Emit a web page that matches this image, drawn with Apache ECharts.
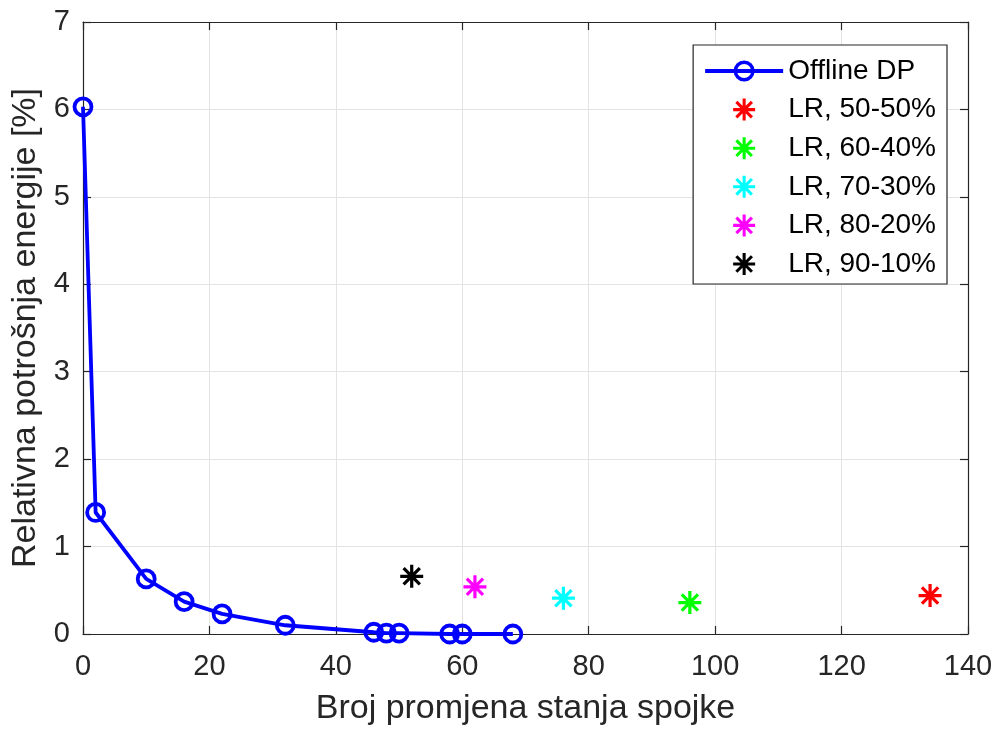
<!DOCTYPE html>
<html>
<head>
<meta charset="utf-8">
<script src="https://cdn.jsdelivr.net/npm/echarts@6/dist/echarts.min.js"></script>
<style>
html,body{margin:0;padding:0;background:#fff;}
#chart{width:996px;height:731px;}
</style>
</head>
<body>
<div id="chart"></div>
<script>
// Offline DP trade-off curve: clutch state changes vs. relative energy use
const dpChanges = [0, 2, 10, 16, 22, 32, 46, 48, 50, 58, 60, 68];
const dpEnergy  = [6.03, 1.39, 0.63, 0.37, 0.23, 0.10, 0.02, 0.01, 0.01, 0.0, 0.0, 0.0];

// Rule-based (LR) operating points
const lrNames   = ['LR, 50-50%', 'LR, 60-40%', 'LR, 70-30%', 'LR, 80-20%', 'LR, 90-10%'];
const lrChanges = [134, 96, 76, 62, 52];
const lrEnergy  = [0.44, 0.36, 0.41, 0.54, 0.66];
const lrColors  = ['#ff0000', '#00ff00', '#00ffff', '#ff00ff', '#000000'];

const xTicks = { min: 0, max: 140, step: 20 };
const yTicks = { min: 0, max: 7, step: 1 };

// eight-spoke asterisk marker
const asterisk = 'path://' +
  'M-1.4,-10L1.4,-10L1.4,10L-1.4,10Z' +
  'M-10,-1.4L10,-1.4L10,1.4L-10,1.4Z' +
  'M6.08,8.06L-8.06,-6.08L-6.08,-8.06L8.06,6.08Z' +
  'M-6.08,8.06L-8.06,6.08L6.08,-8.06L8.06,-6.08Z';

const axisColor = '#262626';
const font = 'Liberation Sans, Arial, sans-serif';

const chart = echarts.init(document.getElementById('chart'), null, { renderer: 'canvas' });

const series = [{
  name: 'Offline DP',
  type: 'line',
  data: dpChanges.map((x, i) => [x, dpEnergy[i]]),
  symbol: 'circle',
  symbolSize: 17,
  showAllSymbol: true,
  clip: false,
  lineStyle: { color: '#0000ff', width: 3.8 },
  itemStyle: { color: 'rgba(0,0,0,0)', borderColor: '#0000ff', borderWidth: 3.8 },
  z: 3
}];
lrNames.forEach((n, i) => {
  series.push({
    name: n,
    type: 'scatter',
    data: [[lrChanges[i], lrEnergy[i]]],
    symbol: asterisk,
    symbolSize: 23,
    itemStyle: { color: lrColors[i], opacity: 1 },
    z: 4
  });
});

const plainAxis = {
  axisLine: { show: true, onZero: false, lineStyle: { color: axisColor, width: 1.2 } },
  axisTick: { show: true, inside: true, length: 8, lineStyle: { color: axisColor, width: 1.2 } },
  axisLabel: { show: false },
  splitLine: { show: false }
};

const legendItems = [{
  name: 'Offline DP',
  lineStyle: { color: '#0000ff', width: 4 },
  itemStyle: { color: 'rgba(0,0,0,0)', borderColor: '#0000ff', borderWidth: 3.5 }
}].concat(lrNames.map(n => ({ name: n })));

chart.setOption({
  animation: false,
  backgroundColor: '#ffffff',
  grid: { left: 83, right: 28, top: 22, bottom: 97, containLabel: false },
  xAxis: [{
    type: 'value', min: xTicks.min, max: xTicks.max, interval: xTicks.step,
    name: 'Broj promjena stanja spojke', nameLocation: 'middle', nameGap: 58,
    nameTextStyle: { fontFamily: font, fontSize: 34, color: axisColor },
    axisLine: { show: true, onZero: false, lineStyle: { color: axisColor, width: 1.2 } },
    axisTick: { show: true, inside: true, length: 8, lineStyle: { color: axisColor, width: 1.2 } },
    axisLabel: { fontFamily: font, fontSize: 29, color: axisColor, margin: 18 },
    splitLine: { show: true, lineStyle: { color: '#e3e3e3', width: 1 } }
  }, Object.assign({
    type: 'value', position: 'top', min: xTicks.min, max: xTicks.max, interval: xTicks.step
  }, plainAxis)],
  yAxis: [{
    type: 'value', min: yTicks.min, max: yTicks.max, interval: yTicks.step,
    name: 'Relativna potrošnja energije [%]', nameLocation: 'middle', nameGap: 39,
    nameTextStyle: { fontFamily: font, fontSize: 34, color: axisColor },
    axisLine: { show: true, onZero: false, lineStyle: { color: axisColor, width: 1.2 } },
    axisTick: { show: true, inside: true, length: 8, lineStyle: { color: axisColor, width: 1.2 } },
    axisLabel: { fontFamily: font, fontSize: 29, color: axisColor, margin: 13 },
    splitLine: { show: true, lineStyle: { color: '#e3e3e3', width: 1 } }
  }, Object.assign({
    type: 'value', position: 'right', min: yTicks.min, max: yTicks.max, interval: yTicks.step
  }, plainAxis)],
  legend: {
    data: legendItems,
    orient: 'vertical',
    right: 49,
    top: 45,
    itemWidth: 78,
    itemHeight: 22,
    itemGap: 10.6,
    padding: [12, 11, 6, 10],
    backgroundColor: '#ffffff',
    borderColor: axisColor,
    borderWidth: 1.2,
    borderRadius: 0,
    textStyle: { fontFamily: font, fontSize: 28, lineHeight: 28, color: '#000000' },
    selectedMode: false
  },
  series: series
});
</script>
</body>
</html>
